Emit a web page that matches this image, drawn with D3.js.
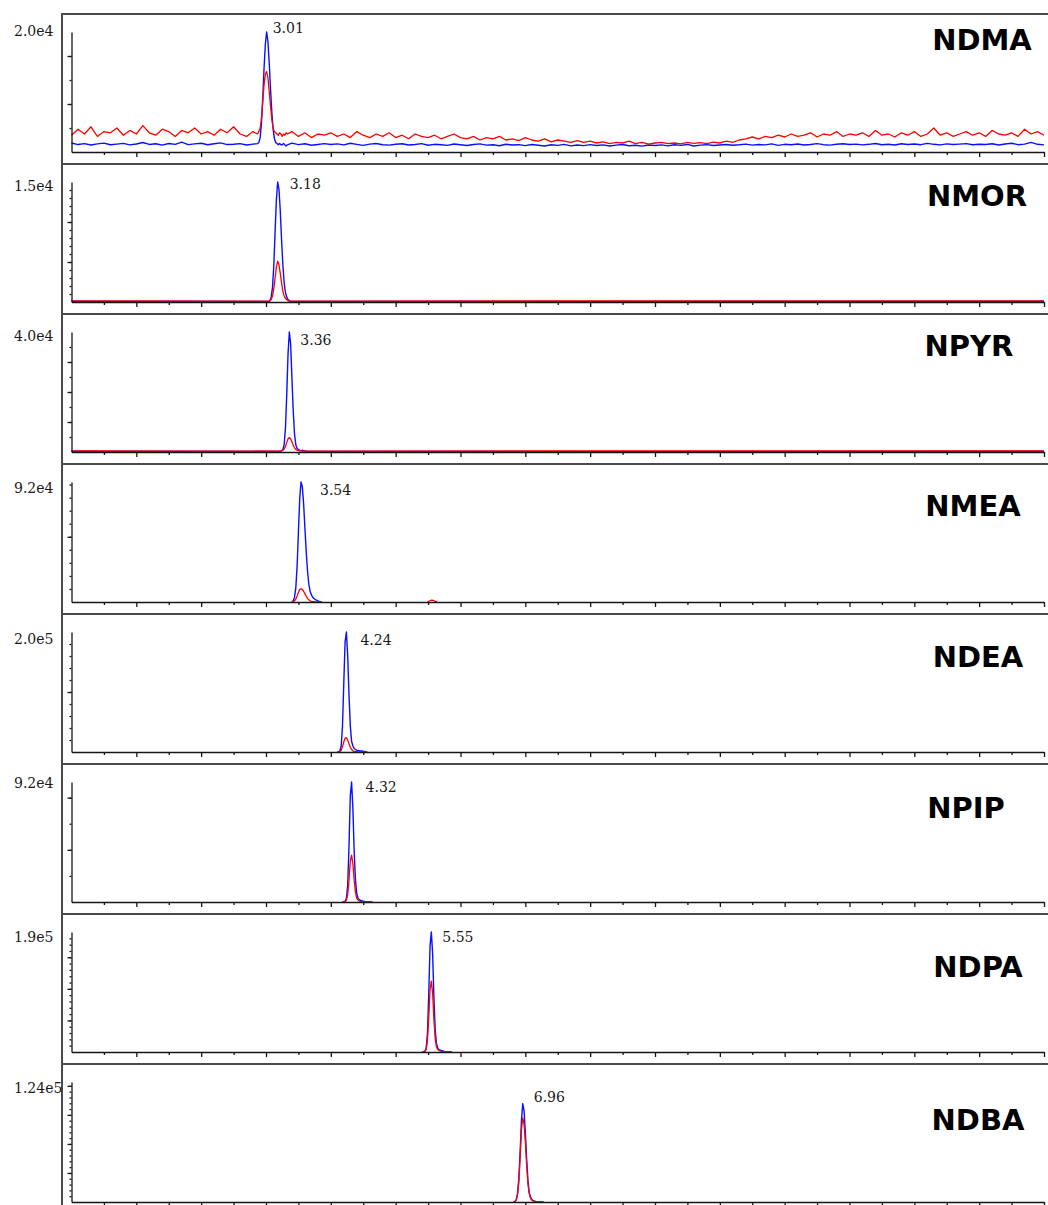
<!DOCTYPE html>
<html>
<head>
<meta charset="utf-8">
<script src="https://cdn.jsdelivr.net/npm/d3@7"></script>
<style>
  body { margin: 0; background: #fff; }
  svg { display: block; }
</style>
</head>
<body>
<script>
var width = 1048,
  height = 1205;

// ---- data (intensities in % of each panel's full scale) ----
var compounds = ["NDMA", "NMOR", "NPYR", "NMEA", "NDEA", "NPIP", "NDPA", "NDBA"];
var retention = [3.01, 3.18, 3.36, 3.54, 4.24, 4.32, 5.55, 6.96];
var fullScale = [2.0e4, 1.5e4, 4.0e4, 9.2e4, 2.0e5, 9.2e4, 1.9e5, 1.24e5];
var fullScaleLabels = ["2.0e4", "1.5e4", "4.0e4", "9.2e4", "2.0e5", "9.2e4", "1.9e5", "1.24e5"];
var majorStep = [8000, 5000, 10000, 50000, 100000, 40000, 50000, 30000];
var minorStep = [4000, 1000, 5000, 10000, 20000, 20000, 10000, 6000];

// peak samples every 0.02 min, starting 0.14 min before the retention time
var sampleStep = 0.02;
var blueProfiles = [
  [7, 8, 12, 24, 45, 70, 90, 100, 92, 74, 52, 33, 19, 11, 8, 7, 6, 7, 6, 6, 7, 6, 5, 6],
  [0.5, 1, 4, 12, 30, 58, 85, 100, 94, 76, 52, 31, 16, 8, 4, 2, 1, 0.6, 0.5, 0.5, 0.5, 0.5, 0.5, 0.5],
  [0.5, 1, 2, 6, 20, 48, 82, 100, 90, 62, 34, 15, 6, 3, 2, 1.5, 1, 1.5, 1, 0.8, 0.6, 0.5, 0.5, 0.5],
  [0, 1, 4, 12, 30, 58, 86, 100, 96, 82, 62, 42, 26, 15, 9, 6, 4, 3, 2, 1.5, 1, 0.5, 0.2, 0],
  [0, 0, 1, 5, 22, 58, 92, 100, 80, 48, 22, 9, 5, 3, 2, 1.5, 1.2, 1, 0.8, 0.8, 0.6, 0.5, 0.3, 0],
  [0, 0, 0.5, 3, 14, 46, 88, 100, 78, 42, 18, 7, 3, 2, 1.2, 1, 0.6, 0.4, 0.2, 0, 0, 0, 0, 0],
  [0, 0, 0.5, 3, 15, 48, 88, 100, 82, 45, 18, 7, 3, 2, 1.5, 1, 0.8, 0.5, 0.3, 0, 0, 0, 0, 0],
  [0, 0.5, 2, 7, 20, 42, 68, 82, 76, 58, 36, 18, 8, 4, 2, 1.2, 0.8, 0.5, 0.3, 0, 0, 0, 0, 0]
];
var redProfiles = [
  [15, 17, 20, 28, 42, 56, 65, 67, 62, 50, 38, 27, 20, 17, 16, 15, 14, 16, 15, 13, 15, 14, 16, 15],
  [0.8, 1, 2, 5, 11, 20, 29, 34, 31, 24, 16, 9, 5, 3, 2, 1, 0.8, 0.8, 0.8, 0.8, 0.8, 0.8, 0.8, 0.8],
  [0.8, 1, 1.5, 2.5, 4.5, 8, 11, 12, 11, 8.5, 5.5, 3.5, 2, 1.5, 1.2, 1, 1, 0.8, 0.8, 0.8, 0.8, 0.8, 0.8, 0.8],
  [0, 0.3, 1, 2.5, 5, 8, 10.5, 11, 10.5, 9, 7, 5, 3, 1.8, 1, 0.5, 0.3, 0.2, 0, 0, 0, 0, 0, 0],
  [0, 0, 0.3, 1.5, 4.5, 8.5, 11.5, 12, 10, 7, 4, 2, 1, 0.5, 0.3, 0.2, 0, 0, 0, 0, 0, 0, 0, 0],
  [0, 0, 0.3, 1.5, 6, 18, 34, 39, 32, 18, 8, 3, 1.5, 0.8, 0.4, 0.2, 0, 0, 0, 0, 0, 0, 0, 0],
  [0, 0, 0.3, 2, 9, 28, 52, 59, 49, 27, 11, 4, 2, 1.2, 0.8, 0.5, 0.3, 0.2, 0, 0, 0, 0, 0, 0],
  [0, 0.4, 1.5, 6, 17, 37, 60, 70, 65, 50, 31, 15, 7, 3, 1.5, 1, 0.6, 0.4, 0.2, 0, 0, 0, 0, 0]
];

// NDMA baseline noise, one value every 0.1 min from 0 to 15 min
var ndmaBlueNoise = [
  7.5, 6.2, 7.0, 5.8, 6.8, 7.4, 6.0, 6.6, 7.2, 5.9, 6.7,
  7.9, 6.3, 6.9, 5.7, 7.1, 6.4, 8.2, 6.1, 6.8, 7.3,
  6.0, 6.9, 7.6, 6.2, 6.5, 7.0, 5.8, 6.6, 6.9, 7.2,
  7.0, 6.8, 6.5, 7.4, 6.1, 6.9, 5.6, 6.3, 7.0, 6.2,
  6.8, 5.9, 7.3, 6.4, 5.5, 6.6, 7.1, 6.0, 5.7, 6.5,
  6.9, 5.8, 6.2, 7.0, 5.6, 6.4, 6.1, 5.5, 6.7, 6.0,
  5.4, 6.3, 6.8, 5.7, 6.0, 5.2, 6.5, 5.8, 6.1, 5.3,
  6.2, 5.6, 5.0, 6.0, 5.5, 6.4, 5.1, 5.8, 5.3, 6.1,
  5.4, 5.9, 5.0, 5.7, 6.2, 5.2, 5.6, 4.9, 5.8, 5.4,
  5.9, 5.1, 6.0, 5.5, 6.3, 5.0, 5.7, 6.1, 5.4, 5.8,
  6.3, 5.6, 6.0, 6.6, 5.7, 6.2, 5.9, 6.8, 5.5, 6.4,
  6.0, 6.7, 5.8, 6.3, 7.0, 6.1, 5.7, 6.5, 6.9, 6.2,
  6.6, 5.9, 6.4, 7.1, 6.0, 6.5, 5.8, 6.9, 6.3, 6.7,
  6.1, 7.2, 6.4, 5.9, 6.8, 6.2, 6.6, 7.0, 6.0, 6.5,
  6.3, 6.9, 5.8, 6.7, 7.3, 6.1, 6.6, 8.0, 6.4, 5.9
];
var ndmaRedNoise = [
  14, 19, 15, 21, 13, 17, 16, 20, 14, 18, 15,
  22, 16, 14, 19, 17, 13, 18, 16, 20, 15,
  17, 14, 19, 16, 21, 15, 13, 17, 16, 18,
  16, 15, 14, 17, 13, 16, 12, 15, 14, 16,
  13, 15, 12, 17, 14, 12, 15, 13, 16, 12,
  14, 11, 15, 13, 12, 14, 11, 13, 15, 12,
  11, 13, 10, 12, 11, 13, 10, 11, 9.5, 12,
  10, 9, 11, 8.5, 10, 9, 8, 9.5, 8, 9,
  7.5, 8.5, 7, 8, 7.5, 9, 7, 8, 6.5, 7.5,
  8, 7, 7.5, 6.8, 8, 7.2, 7.8, 6.9, 8.2, 7.5,
  9, 8, 10, 11, 12.5, 11, 13, 12, 14, 12.5,
  15, 13, 14, 16, 12.5, 15, 14, 17, 13, 15,
  14, 16, 13, 18, 14, 15, 12.5, 16, 14, 17,
  13, 15, 20, 14, 16, 13, 15, 17, 14, 16,
  13, 18, 15, 14, 16, 13, 19, 15, 17, 14
];
var noiseStep = 0.1;

// flat baselines for the other panels (%)
var blueBaseline = [ndmaBlueNoise, 0.6, 0.6, 0, 0, 0, 0, 0];
var redBaseline = [ndmaRedNoise, 0.9, 0.9, 0, 0, 0, 0, 0];

// small red bump in the NMEA trace, [time, %]
var nmeaRedBump = [[5.49, 0], [5.52, 0.8], [5.55, 1.6], [5.58, 1.4], [5.61, 0.6], [5.64, 0]];

// ---- layout ----
var panelH = 150,
  firstTop = 14,
  frameLeft = 62;
var labelDx = [6, 12, 11, 19, 14, 14, 11, 11];       // peak label offset from apex
var labelDy = [1, 7, 13, 13, 13, 10, 10, 20];         // below axis top
var scaleLabelDy = [4, 9, 9, 11, 12, 6, 10, 11];
var nameCx = [982, 977, 969, 973, 978, 966, 978, 978];
var nameDy = [36, 42, 42, 52, 53, 54, 63, 66];

var svg = d3.select("body").append("svg")
  .attr("width", width)
  .attr("height", height);

var x = d3.scaleLinear()
  .domain([0, 15])
  .range([71.5, 1044]);

var panelTop = d3.scaleLinear()
  .domain([0, 1])
  .range([firstTop, firstTop + panelH]);

var line = d3.line()
  .x(function(d) { return x(d[0]); })
  .y(function(d) { return d[1]; });

function buildTrace(level, profile, rt) {
  var start = rt - 0.14;
  var end = start + (profile.length - 1) * sampleStep;
  var pts = [];
  if (Array.isArray(level)) {
    level.forEach(function(v, k) {
      var t = k * noiseStep;
      if (t < start - 1e-6 || t > end + 1e-6) pts.push([t, v]);
    });
  } else if (level > 0) {
    pts.push([0, level], [15, level]);
  }
  profile.forEach(function(v, k) { pts.push([start + k * sampleStep, v]); });
  pts.sort(function(a, b) { return a[0] - b[0]; });
  return pts;
}

// frame: top line, left line, panel separators
var frame = svg.append("g")
  .attr("stroke", "#4a4a4a")
  .attr("stroke-width", 2);

frame.append("line")
  .attr("x1", frameLeft).attr("x2", frameLeft)
  .attr("y1", firstTop).attr("y2", height);

compounds.forEach(function(name, i) {
  var top = panelTop(i),
    axisTop = top + 18,
    base = top + 138;

  frame.append("line")
    .attr("x1", frameLeft - 1).attr("x2", width)
    .attr("y1", top).attr("y2", top);

  var y = d3.scaleLinear()
    .domain([0, fullScale[i]])
    .range([base, axisTop]);

  function py(pct) { return y(pct / 100 * fullScale[i]); }

  var g = svg.append("g").attr("class", "panel");

  var blue = buildTrace(blueBaseline[i], blueProfiles[i], retention[i]);
  var red = buildTrace(redBaseline[i], redProfiles[i], retention[i]);

  g.append("path")
    .attr("d", line(blue.map(function(d) { return [d[0], py(d[1])]; })))
    .attr("fill", "none")
    .attr("stroke", "#0a10ff")
    .attr("stroke-width", 1.4)
    .attr("stroke-linejoin", "round");

  g.append("path")
    .attr("d", line(red.map(function(d) { return [d[0], py(d[1])]; })))
    .attr("fill", "none")
    .attr("stroke", "#ff0000")
    .attr("stroke-width", 1.3)
    .attr("stroke-linejoin", "round");

  if (name === "NMEA") {
    g.append("path")
      .attr("d", line(nmeaRedBump.map(function(d) { return [d[0], py(d[1])]; })))
      .attr("fill", "none")
      .attr("stroke", "#ff0000")
      .attr("stroke-width", 1.3);
  }

  // x axis: minor ticks every 0.5 min, major every minute
  var xMinor = d3.axisBottom(x)
    .tickValues(d3.range(0.5, 15, 1))
    .tickSize(3).tickSizeOuter(0).tickFormat("");
  var xMajor = d3.axisBottom(x)
    .tickValues(d3.range(1, 15.01, 1))
    .tickSize(5).tickSizeOuter(0).tickFormat("");

  g.append("g").attr("transform", "translate(0," + base + ")").call(xMinor)
    .call(function(s) { s.select(".domain").remove(); });
  g.append("g").attr("transform", "translate(0," + base + ")").call(xMajor);

  // y axis
  var yMinor = d3.axisLeft(y)
    .tickValues(d3.range(minorStep[i], fullScale[i] - 1, minorStep[i]))
    .tickSize(2).tickSizeOuter(0).tickFormat("");
  var yMajor = d3.axisLeft(y)
    .tickValues(d3.range(majorStep[i], fullScale[i] - 1, majorStep[i]))
    .tickSize(4).tickSizeOuter(0).tickFormat("");

  g.append("g").attr("transform", "translate(" + x(0) + ",0)").call(yMinor)
    .call(function(s) { s.select(".domain").remove(); });
  g.append("g").attr("transform", "translate(" + x(0) + ",0)").call(yMajor);

  g.selectAll(".domain, .tick line")
    .attr("stroke", "#151515")
    .attr("stroke-width", 1.3);

  // full scale label
  g.append("text")
    .attr("x", 14)
    .attr("y", axisTop + scaleLabelDy[i])
    .attr("font-family", "DejaVu Serif")
    .attr("font-size", 14)
    .attr("fill", "#1a1a1a")
    .text(fullScaleLabels[i]);

  // retention time label
  g.append("text")
    .attr("x", x(retention[i]) + labelDx[i])
    .attr("y", axisTop + labelDy[i])
    .attr("font-family", "DejaVu Serif")
    .attr("font-size", 14)
    .attr("fill", "#1a1a1a")
    .text(retention[i].toFixed(2));

  // compound name
  g.append("text")
    .attr("x", nameCx[i])
    .attr("y", top + nameDy[i])
    .attr("text-anchor", "middle")
    .attr("font-family", "DejaVu Sans")
    .attr("font-weight", "bold")
    .attr("font-size", 29)
    .attr("fill", "#000")
    .text(name);
});
</script>
</body>
</html>
